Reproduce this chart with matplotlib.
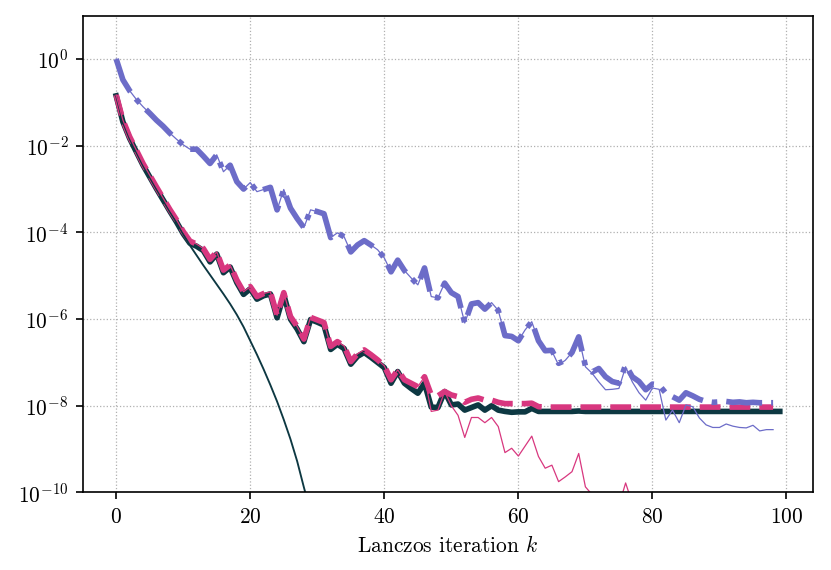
import matplotlib
matplotlib.use("Agg")
import matplotlib.pyplot as plt
import numpy as np
from matplotlib.ticker import FuncFormatter, FixedLocator, NullLocator

plt.rcParams['font.family'] = 'cmr10'
plt.rcParams['mathtext.fontset'] = 'cm'
plt.rcParams['axes.formatter.use_mathtext'] = True
plt.rcParams['font.size'] = 10.3

# log10 of the error, one value per Lanczos iteration k
blue_thick = [0.0, -0.48, -0.73, -0.93, -1.10, -1.25, -1.41, -1.55, -1.71, -1.85,
              -1.98, -2.08, -2.08, -2.24, -2.41, -2.21, -2.60, -2.45, -2.83, -3.00,
              -2.85, -3.06, -3.01, -2.96, -3.48, -3.01, -3.44, -3.68, -3.89, -3.48,
              -3.52, -3.57, -4.12, -4.01, -4.10, -4.45, -4.29, -4.19, -4.29, -4.40,
              -4.59, -4.91, -4.64, -4.88, -5.05, -5.21, -4.82, -5.48, -5.51, -5.17,
              -5.39, -5.48, -6.09, -5.65, -5.62, -5.77, -5.62, -5.80, -6.38, -6.40,
              -6.50, -6.25, -6.06, -6.50, -6.73, -6.72, -7.02, -6.95, -6.77, -6.41,
              -7.08, -7.22, -7.14, -7.33, -7.44, -7.48, -7.06, -7.33, -7.44, -7.63,
              -7.50, -7.52, -7.71, -7.79, -7.87, -7.70, -7.77, -7.85, -7.90, -7.92,
              -7.91, -7.90, -7.92, -7.91, -7.93, -7.92, -7.93, -7.93, -7.93]
blue_thin = [0.0, -0.48, -0.73, -0.93, -1.10, -1.25, -1.41, -1.55, -1.71, -1.85,
             -1.98, -2.08, -2.08, -2.24, -2.41, -2.21, -2.60, -2.45, -2.83, -3.00,
             -2.85, -3.06, -3.01, -2.96, -3.48, -3.01, -3.44, -3.68, -3.89, -3.48,
             -3.52, -3.57, -4.12, -4.01, -4.10, -4.45, -4.29, -4.19, -4.29, -4.40,
             -4.59, -4.91, -4.64, -4.88, -5.05, -5.21, -4.82, -5.48, -5.51, -5.17,
             -5.39, -5.48, -6.09, -5.65, -5.62, -5.77, -5.62, -5.80, -6.38, -6.40,
             -6.50, -6.25, -6.06, -6.50, -6.73, -6.74, -7.06, -6.95, -6.77, -6.41,
             -7.10, -7.25, -7.45, -7.63, -7.62, -7.60, -7.10, -7.45, -7.70, -7.87,
             -7.59, -7.62, -8.33, -8.10, -8.39, -7.98, -8.02, -8.28, -8.44, -8.50,
             -8.50, -8.42, -8.47, -8.50, -8.51, -8.45, -8.58, -8.55, -8.55]
pink_thick = [-0.83, -1.41, -1.79, -2.10, -2.41, -2.68, -2.95, -3.21, -3.47, -3.71,
              -3.98, -4.20, -4.27, -4.37, -4.62, -4.45, -4.87, -4.75, -5.10, -5.37,
              -5.25, -5.48, -5.41, -5.37, -5.91, -5.39, -5.94, -6.17, -6.46, -5.96,
              -6.02, -6.08, -6.63, -6.52, -6.62, -6.98, -6.80, -6.71, -6.82, -6.94,
              -7.08, -7.40, -7.17, -7.40, -7.48, -7.56, -7.33, -7.75, -7.77, -7.67,
              -7.75, -7.79, -7.92, -7.85, -7.82, -7.87, -7.87, -7.92, -7.95, -7.95,
              -7.95, -7.95, -7.94, -8.02, -8.03, -8.03, -8.03, -8.03, -8.03, -8.03,
              -8.03, -8.03, -8.03, -8.03, -8.03, -8.03, -8.03, -8.03, -8.03, -8.03,
              -8.03, -8.03, -8.03, -8.03, -8.03, -8.03, -8.03, -8.03, -8.03, -8.03,
              -8.03, -8.03, -8.03, -8.03, -8.03, -8.03, -8.03, -8.03, -8.03]
pink_thin = [-0.83, -1.41, -1.79, -2.10, -2.41, -2.68, -2.95, -3.21, -3.47, -3.71,
             -3.98, -4.20, -4.27, -4.37, -4.62, -4.45, -4.87, -4.75, -5.10, -5.37,
             -5.25, -5.48, -5.41, -5.37, -5.91, -5.39, -5.94, -6.17, -6.46, -5.96,
             -6.02, -6.08, -6.63, -6.52, -6.62, -6.98, -6.80, -6.71, -6.82, -6.94,
             -7.08, -7.40, -7.17, -7.40, -7.48, -7.56, -7.33, -8.13, -8.10, -7.67,
             -8.00, -8.22, -8.73, -8.27, -8.27, -8.39, -8.27, -8.48, -9.08, -8.98,
             -9.16, -8.93, -8.70, -9.17, -9.44, -9.37, -9.75, -9.64, -9.52, -9.10,
             -9.87, -10.05, -10.25, -10.20, -10.40, -10.30, -9.78, -10.25, -10.40, -10.60,
             -10.50, -10.55, -10.80, -10.70, -10.90, -10.80, -10.85, -11.00, -11.10, -11.10,
             -11.10, -11.05, -11.10, -11.10, -11.15, -11.10, -11.20, -11.20, -11.20]
dark_thick = [-0.85, -1.45, -1.83, -2.14, -2.45, -2.72, -2.99, -3.25, -3.51, -3.76,
              -4.03, -4.25, -4.32, -4.42, -4.68, -4.50, -4.93, -4.80, -5.16, -5.43,
              -5.30, -5.54, -5.46, -5.42, -5.97, -5.44, -6.00, -6.23, -6.52, -6.01,
              -6.07, -6.14, -6.70, -6.58, -6.68, -7.04, -6.86, -6.77, -6.88, -7.00,
              -7.12, -7.48, -7.21, -7.48, -7.60, -7.71, -7.48, -8.03, -8.04, -7.67,
              -7.98, -7.96, -8.10, -8.04, -7.98, -8.10, -8.00, -8.10, -8.13, -8.15,
              -8.14, -8.14, -8.06, -8.13, -8.13, -8.13, -8.13, -8.13, -8.13, -8.12,
              -8.13, -8.13, -8.13, -8.13, -8.13, -8.13, -8.13, -8.13, -8.13, -8.13,
              -8.13, -8.13, -8.13, -8.13, -8.13, -8.13, -8.13, -8.13, -8.13, -8.13,
              -8.13, -8.13, -8.13, -8.13, -8.13, -8.13, -8.13, -8.13, -8.13, -8.13]
dark_thin = [-0.86, -1.46, -1.84, -2.15, -2.46, -2.73, -3.00, -3.26, -3.52, -3.77,
             -4.04, -4.30, -4.53, -4.76, -4.98, -5.20, -5.42, -5.65, -5.90, -6.18,
             -6.50, -6.82, -7.16, -7.52, -7.90, -8.32, -8.77, -9.28, -9.88, -10.45,
             -11.05, -11.70, -12.40]

blue = '#6C6CC8'
pink = '#D8377F'
dark = '#0D3842'

fig = plt.figure(figsize=(5.54, 3.8), dpi=150)
ax = fig.add_axes([0.0999, 0.136, 0.8784, 0.8365])

def k_of(v):
    return np.arange(len(v))

ax.plot(k_of(dark_thick), 10.0 ** np.array(dark_thick), color=dark, lw=2.7)
ax.plot(k_of(pink_thick), 10.0 ** np.array(pink_thick), color=pink, lw=2.7, ls='--')
ax.plot(k_of(blue_thick), 10.0 ** np.array(blue_thick), color=blue, lw=2.7, ls='-.')
ax.plot(k_of(dark_thin), 10.0 ** np.array(dark_thin), color=dark, lw=0.9)
ax.plot(k_of(pink_thin), 10.0 ** np.array(pink_thin), color=pink, lw=0.6)
ax.plot(k_of(blue_thin), 10.0 ** np.array(blue_thin), color=blue, lw=0.6)

ax.set_yscale('log')
ax.set_ylim(1e-10, 1e1)
ax.set_xlim(-4.95, 103.95)
ax.yaxis.set_major_locator(FixedLocator([1e-10, 1e-8, 1e-6, 1e-4, 1e-2, 1e0]))
ax.yaxis.set_minor_locator(NullLocator())
ax.yaxis.set_major_formatter(FuncFormatter(lambda v, p: r'$10^{%d}$' % round(np.log10(v))))
ax.xaxis.set_major_locator(FixedLocator([0, 20, 40, 60, 80, 100]))
ax.xaxis.set_major_formatter(FuncFormatter(lambda v, p: r'$%d$' % v))
ax.grid(True, ls=':', color='#b0b0b0', lw=0.6)
ax.set_axisbelow(True)
ax.set_xlabel(r'Lanczos iteration $k$')

fig.savefig('out.png', dpi=150)
